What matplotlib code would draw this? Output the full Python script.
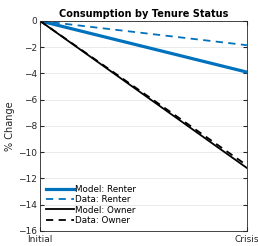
import matplotlib
matplotlib.use("Agg")
import matplotlib.pyplot as plt

periods = ["Initial", "Crisis"]
model_renter = [0, -3.9]
data_renter = [0, -1.85]
model_owner = [0, -11.2]
data_owner = [0, -11.0]

blue = "#0072BD"

fig = plt.figure(figsize=(2.58, 2.46), dpi=100)
ax = fig.add_axes([0.155, 0.061, 0.802, 0.854])

x = [0, 1]
ax.plot(x, model_renter, color=blue, lw=2.3, label="Model: Renter")
ax.plot(x, data_renter, color=blue, lw=1.3, ls=(0, (4, 3)), label="Data: Renter")
ax.plot(x, model_owner, color="k", lw=1.3, label="Model: Owner")
ax.plot(x, data_owner, color="k", lw=1.3, ls=(0, (4, 3)), label="Data: Owner")

ax.set_xlim(0, 1)
ax.set_ylim(-16, 0)
ax.set_xticks(x)
ax.set_xticklabels(periods)
ax.set_yticks(range(-16, 1, 2))
ax.grid(True, color="#e6e6e6", lw=0.6)
ax.set_axisbelow(True)
ax.tick_params(direction="in", length=3, labelsize=6.5, colors="#262626",
               top=True, right=True, pad=2)
ax.tick_params(axis="x", pad=3)
for s in ax.spines.values():
    s.set_color("#262626")
    s.set_linewidth(0.6)
ax.set_ylabel("% Change", fontsize=7, color="#262626", labelpad=2)
ax.set_title("Consumption by Tenure Status", fontsize=7, fontweight="bold", pad=3)

leg = ax.legend(loc="lower left", fontsize=6.3, frameon=False, handlelength=3.2,
                handletextpad=0.1, labelspacing=0.15, borderaxespad=0.3)

fig.savefig("out.png", dpi=100)
